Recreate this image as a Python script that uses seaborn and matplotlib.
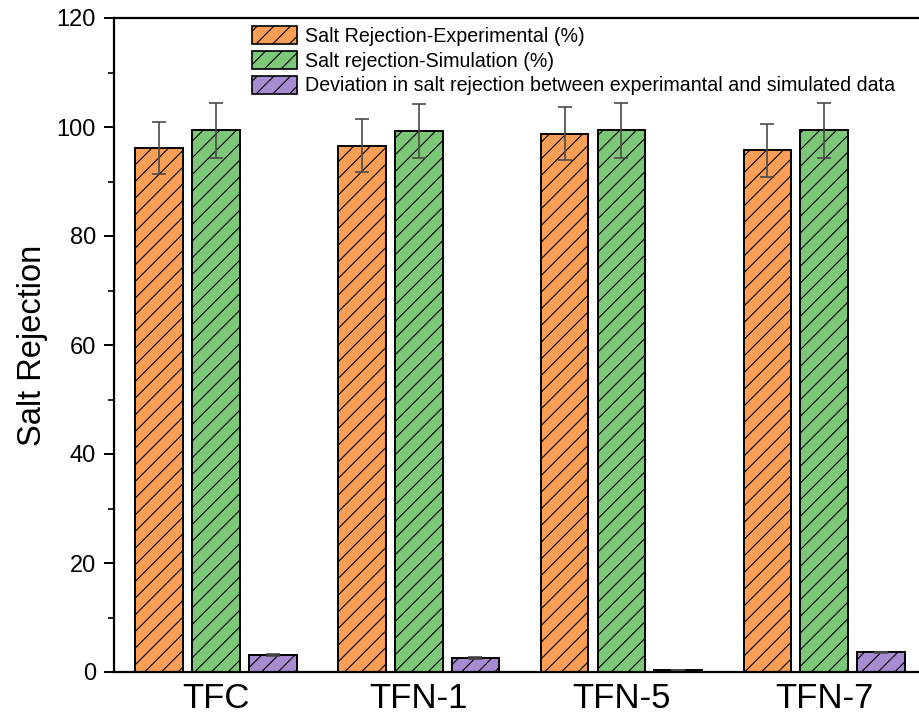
import numpy as np
import pandas as pd
import seaborn as sns
import matplotlib.pyplot as plt
from matplotlib.patches import Patch
from matplotlib.ticker import MultipleLocator

# Membranes and measured / simulated salt rejection
membranes = ["TFC", "TFN-1", "TFN-5", "TFN-7"]
series = [
    "Salt Rejection-Experimental (%)",
    "Salt rejection-Simulation (%)",
    "Deviation in salt rejection between experimantal and simulated data",
]
rej_exp = [96.2, 96.6, 98.8, 95.7]
rej_sim = [99.4, 99.3, 99.4, 99.4]
deviation = [3.1, 2.6, 0.35, 3.6]
err_exp = [4.8, 4.8, 4.9, 4.8]
err_sim = [5.0, 5.0, 5.0, 5.0]
err_dev = [0.15, 0.15, 0.05, 0.15]
colors = ["#FA9F55", "#7DC878", "#A98BD2"]

sns.set_theme(style="ticks")
plt.rcParams["font.family"] = ["Liberation Sans", "DejaVu Sans"]
plt.rcParams["hatch.linewidth"] = 0.8
for key in ["text.color", "axes.labelcolor", "xtick.color", "ytick.color"]:
    plt.rcParams[key] = "black"

df = pd.DataFrame({
    "Membrane": membranes * 3,
    "Series": np.repeat(series, len(membranes)),
    "Value": rej_exp + rej_sim + deviation,
})

fig = plt.figure(figsize=(9.2, 7.18), dpi=100)
ax = fig.add_axes([114 / 920, 1 - 672 / 718, 1 - 114 / 920, (672 - 18) / 718])

sns.barplot(
    data=df, x="Membrane", y="Value", hue="Series", hue_order=series,
    order=membranes, palette=colors, saturation=1, width=0.84, gap=0.16,
    edgecolor="black", linewidth=1.4, errorbar=None, legend=False, ax=ax,
)

errors = [err_exp, err_sim, err_dev]
for cont, errs in zip(ax.containers, errors):
    xs, ys = [], []
    for bar in cont:
        bar.set_hatch("//")
        xs.append(bar.get_x() + bar.get_width() / 2)
        ys.append(bar.get_height())
    ax.errorbar(xs, ys, yerr=errs, fmt="none", ecolor="#4a4a4a",
                elinewidth=1.2, capsize=4.7, capthick=1.2, zorder=5)

ax.set_xlim(-0.503, 3.473)
ax.set_ylim(0, 120)
ax.yaxis.set_major_locator(MultipleLocator(20))
ax.yaxis.set_minor_locator(MultipleLocator(10))

for side in ["left", "bottom", "top"]:
    ax.spines[side].set_linewidth(1.6)
    ax.spines[side].set_color("black")
ax.spines["right"].set_visible(False)

ax.tick_params(axis="y", which="major", direction="out", length=7, width=1.4,
               labelsize=17, pad=6, color="black")
ax.tick_params(axis="y", which="minor", direction="out", length=4, width=1.2,
               color="black")
ax.tick_params(axis="x", length=0, labelsize=25, pad=7)

ax.set_xlabel("")
ax.set_ylabel("Salt Rejection", fontsize=23.5, labelpad=6)

handles = [Patch(facecolor=c, edgecolor="black", hatch="//", linewidth=1.2)
           for c in colors]
fig.legend(
    handles, series, loc="upper left", bbox_to_anchor=(252 / 920, 1 - 26 / 718),
    bbox_transform=fig.transFigure, frameon=False, fontsize=14.1,
    borderpad=0, borderaxespad=0, handlelength=2.3, handleheight=1.05,
    handletextpad=0.4, labelspacing=0.26,
)

fig.savefig("out.png", dpi=100)
